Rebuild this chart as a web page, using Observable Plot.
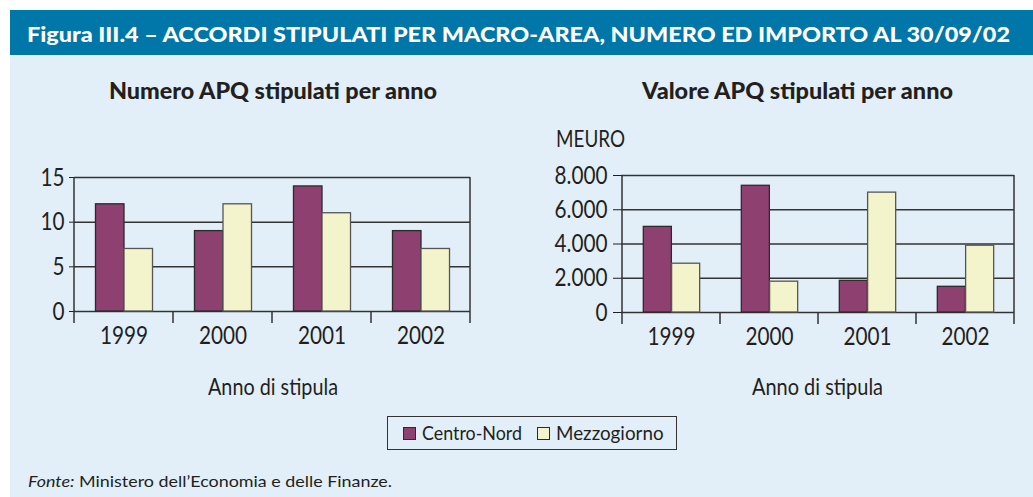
<!DOCTYPE html>
<html>
<head>
<meta charset="utf-8">
<script src="https://cdn.jsdelivr.net/npm/d3@7"></script>
<script src="https://cdn.jsdelivr.net/npm/@observablehq/plot@0.6"></script>
<style>
  html, body { margin: 0; padding: 0; background: #ffffff; }
  #root { position: relative; width: 1033px; height: 497px; overflow: hidden; background: #ffffff; }
  .bg { position: absolute; left: 10px; top: 55px; right: 0; bottom: 0; background: #e2eff8; }
  .band { position: absolute; left: 10px; top: 10px; right: 0; height: 45px; background: #0077a8; }
  .t { position: absolute; white-space: nowrap; line-height: normal; transform-origin: 0 0; }
  .chart { position: absolute; }
  .legend { position: absolute; left: 387px; top: 416px; width: 288px; height: 32px; border: 1.5px solid #333; background: #e2eff8; }
  .sw { position: absolute; width: 11px; height: 11px; border: 1.3px solid #2b2b2b; }
</style>
</head>
<body>
<div id="root">
  <div class="bg"></div>
  <div class="band"></div>
  <div class="legend"></div>
</div>
<script>
// ---- data ----
const years = ["1999", "2000", "2001", "2002"];
const seriesNames = ["Centro-Nord", "Mezzogiorno"];
const numeroCentroNord = [12, 9, 14, 9];
const numeroMezzogiorno = [7, 12, 11, 7];
const valoreCentroNord = [5000, 7400, 1850, 1500];
const valoreMezzogiorno = [2850, 1800, 7000, 3900];
const numeroTicks = [0, 5, 10, 15];
const valoreTicks = [0, 2000, 4000, 6000, 8000];

// ---- styles ----
const colorCN = "#8e4070";
const colorMZ = "#f4f4cc";
const lineColor = "#333333";
const textColor = "#231f20";
const lightFont = 'Lato, "Open Sans", sans-serif';
const boldFont = 'Lato, "Open Sans", sans-serif';
const labelWeight = 400;
const tickScale = 0.83;

const root = document.getElementById("root");
const itFormat = d3.formatLocale({decimal: ",", thousands: ".", grouping: [3], currency: ["", " €"]}).format(",");

function chart({cn, mz, ticks, yMax, fmt, width, height, ml, mr, mt, mb, tSize, tPad}) {
  const rows = [];
  years.forEach((yr, i) => {
    rows.push({year: yr, series: seriesNames[0], value: cn[i]});
    rows.push({year: yr, series: seriesNames[1], value: mz[i]});
  });
  const step = (width - ml - mr) / years.length;
  const o = 0.217, w = 0.288;
  const frameLines = (index, scales) => {
    const x = scales.x, y = scales.y;
    const bw = typeof x.bandwidth === "function" ? x.bandwidth() : step;
    const top = y(yMax), base = y(0), tick = base + 12;
    const xs = years.map(v => x(v));
    xs.push(x(years[years.length - 1]) + bw);
    const g = d3.create("svg:g").attr("stroke", lineColor).attr("stroke-width", 1.5).attr("fill", "none");
    xs.forEach((px, i) => {
      const edge = i === 0 || i === xs.length - 1;
      g.append("line").attr("x1", px).attr("x2", px).attr("y1", edge ? top : base).attr("y2", tick);
    });
    return g.node();
  };
  const svg = Plot.plot({
    width, height,
    marginLeft: ml, marginRight: mr, marginTop: mt, marginBottom: mb,
    style: {background: "transparent", fontFamily: lightFont, fontWeight: labelWeight, fontSize: "25px", color: textColor, overflow: "visible"},
    x: {domain: years, padding: 0, tickSize: 0, tickPadding: 15, label: null},
    y: {domain: [0, yMax], ticks, tickSize: tSize, tickPadding: tPad, tickFormat: fmt, label: null},
    marks: [
      Plot.ruleY(ticks, {stroke: lineColor, strokeWidth: 1.5}),
      Plot.barY(rows.filter(d => d.series === seriesNames[0]), {
        x: "year", y: "value", fill: colorCN, stroke: "#2b2b2b", strokeWidth: 1.3,
        insetLeft: o * step, insetRight: (1 - o - w) * step
      }),
      Plot.barY(rows.filter(d => d.series === seriesNames[1]), {
        x: "year", y: "value", fill: colorMZ, stroke: "#555555", strokeWidth: 1.3,
        insetLeft: (o + w) * step, insetRight: (1 - o - 2 * w) * step
      }),
      frameLines
    ]
  });
  // narrow the tick labels horizontally around their anchor point
  svg.querySelectorAll("text").forEach(t => {
    const tr = t.getAttribute("transform");
    if (tr) {
      t.setAttribute("transform", tr + ` scale(${tickScale},1)`);
    } else {
      const x = parseFloat(t.getAttribute("x")) || 0;
      t.setAttribute("transform", `translate(${x},0) scale(${tickScale},1) translate(${-x},0)`);
    }
  });
  return svg;
}

function placeChart(svg, left, top) {
  const d = document.createElement("div");
  d.className = "chart";
  d.style.left = left + "px";
  d.style.top = top + "px";
  d.appendChild(svg);
  root.appendChild(d);
}

placeChart(chart({
  cn: numeroCentroNord, mz: numeroMezzogiorno, ticks: numeroTicks, yMax: 15, fmt: d => String(d),
  width: 500, height: 260, ml: 74, mr: 30, mt: 27, mb: 99, tSize: 5, tPad: 5
}), 0, 150);

placeChart(chart({
  cn: valoreCentroNord, mz: valoreMezzogiorno, ticks: valoreTicks, yMax: 8000, fmt: itFormat,
  width: 513, height: 260, ml: 101, mr: 19, mt: 25, mb: 98, tSize: 8, tPad: 6
}), 520, 150);

// ---- text placement (baseline-aligned, width-fitted) ----
function place(html, {x, baseline, anchor = "start", family, size, weight = "normal", color = textColor, width}) {
  const div = document.createElement("div");
  div.className = "t";
  div.style.fontFamily = family;
  div.style.fontSize = size + "px";
  div.style.fontWeight = weight;
  div.style.color = color;
  div.innerHTML = html;
  const probe = document.createElement("span");
  probe.style.cssText = "display:inline-block;width:0;height:0;vertical-align:baseline;";
  div.appendChild(probe);
  div.style.left = "0px";
  div.style.top = "0px";
  root.appendChild(div);
  const natural = div.getBoundingClientRect().width;
  const base = probe.offsetTop;
  const target = width || natural;
  const s = target / natural;
  div.style.transform = `scaleX(${s})`;
  const left = anchor === "middle" ? x - target / 2 : x;
  div.style.left = left + "px";
  div.style.top = (baseline - base) + "px";
  return div;
}

place("Figura III.4 – ACCORDI STIPULATI PER MACRO-AREA, NUMERO ED IMPORTO AL 30/09/02",
  {x: 26.7, baseline: 41.7, family: boldFont, size: 20, weight: 900, color: "#ffffff", width: 983});
place("Numero APQ stipulati per anno",
  {x: 273, baseline: 99.3, anchor: "middle", family: boldFont, size: 23, weight: 900, width: 328});
place("Valore APQ stipulati per anno",
  {x: 797.3, baseline: 99.3, anchor: "middle", family: boldFont, size: 23, weight: 900, width: 311});
place("MEURO", {x: 556, baseline: 146.7, family: lightFont, size: 23, weight: labelWeight, width: 69});
place("Anno di stipula", {x: 273, baseline: 395, anchor: "middle", family: lightFont, size: 24, weight: labelWeight, width: 130});
place("Anno di stipula", {x: 817.5, baseline: 395, anchor: "middle", family: lightFont, size: 24, weight: labelWeight, width: 131});

// legend
function swatch(left, top, fill) {
  const s = document.createElement("div");
  s.className = "sw";
  s.style.left = left + "px";
  s.style.top = top + "px";
  s.style.background = fill;
  root.appendChild(s);
}
swatch(403, 427, colorCN);
swatch(536.7, 427, colorMZ);
place(seriesNames[0], {x: 421.7, baseline: 440, family: lightFont, size: 20, weight: labelWeight, width: 100});
place(seriesNames[1], {x: 555.7, baseline: 440, family: lightFont, size: 20, weight: labelWeight, width: 107.6});

// source
place("<i>Fonte:</i> Ministero dell’Economia e delle Finanze.",
  {x: 28, baseline: 486.7, family: lightFont, size: 15, weight: 400, width: 364});
</script>
</body>
</html>
